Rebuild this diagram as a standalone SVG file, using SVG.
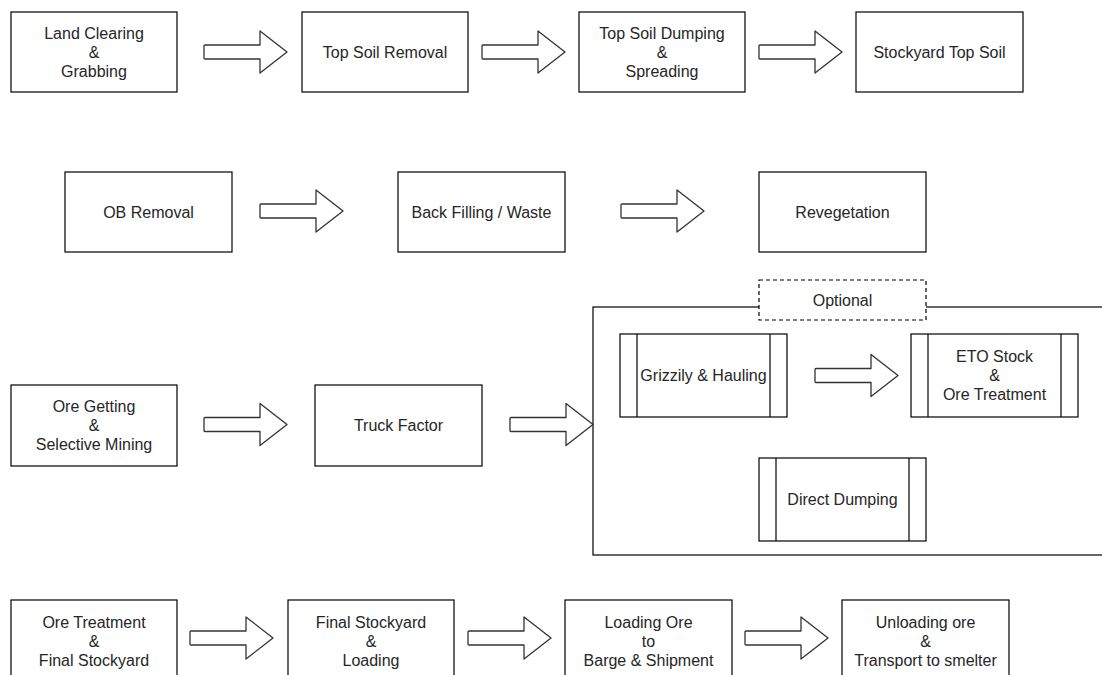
<svg xmlns="http://www.w3.org/2000/svg" xmlns:xlink="http://www.w3.org/1999/xlink" width="1102" height="675" viewBox="0 0 1102 675">
<style>
.box{fill:#fff;stroke:#000;stroke-width:1.2}
.inner{stroke:#000;stroke-width:1.2;fill:none}
.dash{fill:#fff;stroke:#000;stroke-width:1.2;stroke-dasharray:4 3}
.t{font-family:"Liberation Sans",Arial,sans-serif;font-size:16px;fill:#262626;text-anchor:middle}
.arr{fill:#fff;stroke:#333;stroke-width:1.3;stroke-linejoin:round}
</style>
<defs>
<path id="ar" class="arr" d="M1,-7 L56,-7 L56,-21 L83,0 L56,21 L56,7 L1,7 Q0,7 0,6 L0,-6 Q0,-7 1,-7 Z"/>
</defs>
<rect width="1102" height="675" fill="#fff"/>

<g id="container">
<rect x="593" y="307" width="520" height="248" fill="none" stroke="#000" stroke-width="1.2"/>
</g>
<g id="optional">
<rect class="dash" x="759" y="280" width="167" height="40"/>
<text class="t" x="842.5" y="305.5">Optional</text>
</g>

<g id="connectors">
<use xlink:href="#ar" transform="translate(204,52)"/>
<use xlink:href="#ar" transform="translate(482,52)"/>
<use xlink:href="#ar" transform="translate(759,52)"/>
<use xlink:href="#ar" transform="translate(260,211)"/>
<use xlink:href="#ar" transform="translate(621,211)"/>
<use xlink:href="#ar" transform="translate(204,424.5)"/>
<use xlink:href="#ar" transform="translate(510,424.5)"/>
<use xlink:href="#ar" transform="translate(815,375.5)"/>
<use xlink:href="#ar" transform="translate(190,638)"/>
<use xlink:href="#ar" transform="translate(468,638)"/>
<use xlink:href="#ar" transform="translate(745,638)"/>
</g>

<g id="land-clearing">
<rect class="box" x="11" y="12" width="166" height="80"/>
<text class="t" x="94" y="39">Land Clearing</text>
<text class="t" x="94" y="58">&amp;</text>
<text class="t" x="94" y="77">Grabbing</text>
</g>
<g id="top-soil-removal">
<rect class="box" x="302" y="12" width="166" height="80"/>
<text class="t" x="385" y="58">Top Soil Removal</text>
</g>
<g id="top-soil-dumping">
<rect class="box" x="579" y="12" width="166" height="80"/>
<text class="t" x="662" y="39">Top Soil Dumping</text>
<text class="t" x="662" y="58">&amp;</text>
<text class="t" x="662" y="77">Spreading</text>
</g>
<g id="stockyard-top-soil">
<rect class="box" x="856" y="12" width="167" height="80"/>
<text class="t" x="939.5" y="58">Stockyard Top Soil</text>
</g>

<g id="ob-removal">
<rect class="box" x="65" y="172" width="167" height="80"/>
<text class="t" x="148.5" y="218">OB Removal</text>
</g>
<g id="back-filling">
<rect class="box" x="398" y="172" width="167" height="80"/>
<text class="t" x="481.5" y="218">Back Filling / Waste</text>
</g>
<g id="revegetation">
<rect class="box" x="759" y="172" width="167" height="80"/>
<text class="t" x="842.5" y="218">Revegetation</text>
</g>

<g id="ore-getting">
<rect class="box" x="11" y="385" width="166" height="81"/>
<text class="t" x="94" y="412">Ore Getting</text>
<text class="t" x="94" y="431">&amp;</text>
<text class="t" x="94" y="450">Selective Mining</text>
</g>
<g id="truck-factor">
<rect class="box" x="315" y="385" width="167" height="81"/>
<text class="t" x="398.5" y="431">Truck Factor</text>
</g>

<g id="grizzily">
<rect class="box" x="620" y="334" width="167" height="83"/>
<line class="inner" x1="637" y1="334" x2="637" y2="417"/>
<line class="inner" x1="770" y1="334" x2="770" y2="417"/>
<text class="t" x="703.5" y="381">Grizzily &amp; Hauling</text>
</g>
<g id="eto-stock">
<rect class="box" x="911" y="334" width="167" height="83"/>
<line class="inner" x1="928" y1="334" x2="928" y2="417"/>
<line class="inner" x1="1061" y1="334" x2="1061" y2="417"/>
<text class="t" x="994.5" y="362">ETO Stock</text>
<text class="t" x="994.5" y="381">&amp;</text>
<text class="t" x="994.5" y="400">Ore Treatment</text>
</g>
<g id="direct-dumping">
<rect class="box" x="759" y="458" width="167" height="83"/>
<line class="inner" x1="776" y1="458" x2="776" y2="541"/>
<line class="inner" x1="909" y1="458" x2="909" y2="541"/>
<text class="t" x="842.5" y="505">Direct Dumping</text>
</g>

<g id="ore-treatment">
<rect class="box" x="11" y="600" width="166" height="81"/>
<text class="t" x="94" y="628">Ore Treatment</text>
<text class="t" x="94" y="647">&amp;</text>
<text class="t" x="94" y="666">Final Stockyard</text>
</g>
<g id="final-stockyard">
<rect class="box" x="288" y="600" width="166" height="81"/>
<text class="t" x="371" y="628">Final Stockyard</text>
<text class="t" x="371" y="647">&amp;</text>
<text class="t" x="371" y="666">Loading</text>
</g>
<g id="loading-ore">
<rect class="box" x="565" y="600" width="167" height="81"/>
<text class="t" x="648.5" y="628">Loading Ore</text>
<text class="t" x="648.5" y="647">to</text>
<text class="t" x="648.5" y="666">Barge &amp; Shipment</text>
</g>
<g id="unloading-ore">
<rect class="box" x="842" y="600" width="167" height="81"/>
<text class="t" x="925.5" y="628">Unloading ore</text>
<text class="t" x="925.5" y="647">&amp;</text>
<text class="t" x="925.5" y="666">Transport to smelter</text>
</g>
</svg>
